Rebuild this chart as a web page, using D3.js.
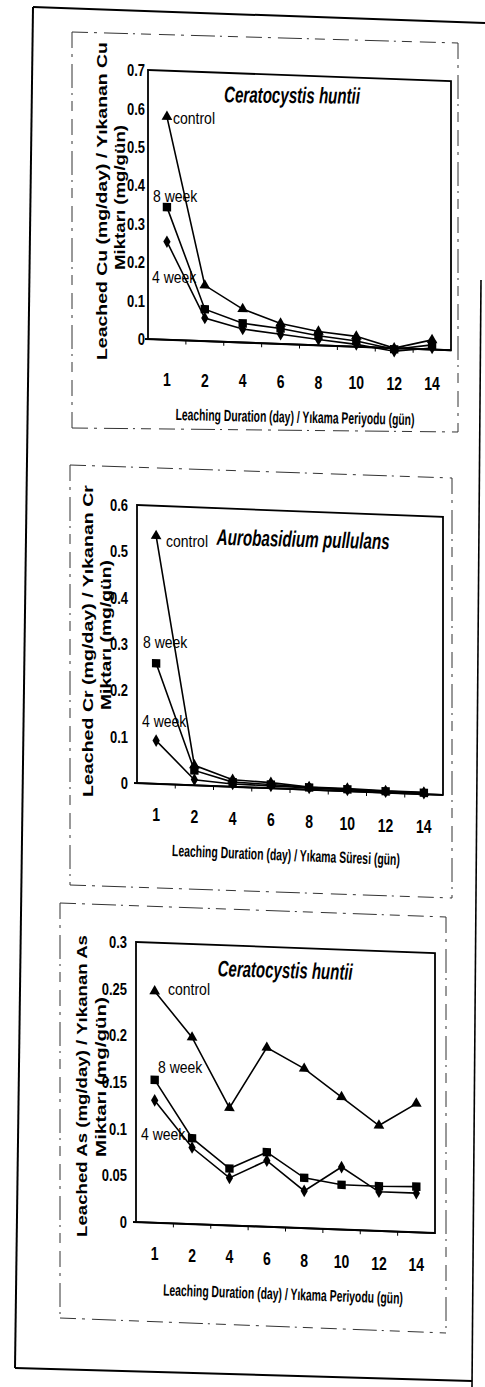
<!DOCTYPE html>
<html><head><meta charset="utf-8">
<script src="https://cdn.jsdelivr.net/npm/d3@7"></script>
<style>html,body{margin:0;padding:0;background:#fff}</style>
</head><body>
<svg id="c" width="485" height="1387"></svg>
<script>
// ---------- DATA ----------
const categories = ["1", "2", "4", "6", "8", "10", "12", "14"];
const seriesNames = ["control", "8 week", "4 week"];

const cuControl = [0.58, 0.145, 0.087, 0.053, 0.036, 0.027, 0.0, 0.025];
const cuWeek8   = [0.345, 0.083, 0.05, 0.04, 0.025, 0.015, -0.003, 0.012];
const cuWeek4   = [0.255, 0.06, 0.035, 0.025, 0.015, 0.006, -0.008, 0.004];
const cuTicks   = [0, 0.1, 0.2, 0.3, 0.4, 0.5, 0.6, 0.7];

const crControl = [0.535, 0.043, 0.015, 0.012, 0.006, 0.006, 0.004, 0.004];
const crWeek8   = [0.26, 0.032, 0.01, 0.008, 0.005, 0.004, 0.003, 0.003];
const crWeek4   = [0.093, 0.012, 0.006, 0.005, 0.004, 0.003, 0.002, 0.002];
const crTicks   = [0, 0.1, 0.2, 0.3, 0.4, 0.5, 0.6];

const asControl = [0.248, 0.2, 0.126, 0.192, 0.171, 0.142, 0.113, 0.138];
const asWeek8   = [0.153, 0.092, 0.061, 0.08, 0.054, 0.048, 0.048, 0.049];
const asWeek4   = [0.131, 0.082, 0.051, 0.071, 0.04, 0.067, 0.042, 0.042];
const asTicks   = [0, 0.05, 0.1, 0.15, 0.2, 0.25, 0.3];

const panelTitles = ["Ceratocystis huntii", "Aurobasidium pullulans", "Ceratocystis huntii"];
const yTitles = ["Leached Cu (mg/day) / Yıkanan Cu", "Leached Cr (mg/day) / Yıkanan Cr", "Leached As (mg/day) / Yıkanan As"];
const yTitle2 = "Miktarı (mg/gün)";
const xTitles = ["Leaching Duration (day) / Yıkama Periyodu (gün)", "Leaching Duration (day) / Yıkama Süresi (gün)", "Leaching Duration (day) / Yıkama Periyodu (gün)"];

// ---------- LAYOUT ----------
const NARROW = "'Liberation Sans Narrow','Arial Narrow',sans-serif";
const WIDE = "'Liberation Sans',Arial,sans-serif";
const layouts = [
  { left: 148, w: 303, y0: 339, yTop: 70, slope: 0.037,
    box: { x0: 72, x1: 458, top0: 32, top1: 43, bot0: 428, bot1: 432 },
    ylabRight: 145, xlabY: 380, xlabSlope: 0.015,
    xt: { cx: 295, cy: 417, len: 239, rot: 1.2 },
    yt1: { x: 107, y: 360, len: 318 }, yt2: { x: 125, y: 270, len: 145 },
    title: { cx: 292, y: 103, len: 136, rot: 0.6 },
    labels: [[173, 124], [153, 202], [152, 283]] },
  { left: 137, w: 306, y0: 783, yTop: 505, slope: 0.039,
    box: { x0: 70, x1: 452, top0: 465, top1: 478, bot0: 885, bot1: 898 },
    ylabRight: 128, xlabY: 815, xlabSlope: 0.045,
    xt: { cx: 286, cy: 855, len: 228, rot: 2.3 },
    yt1: { x: 93, y: 797, len: 312 }, yt2: { x: 111, y: 710, len: 150 },
    title: { cx: 303, y: 547, len: 173, rot: 1.5 },
    labels: [[166, 547], [143, 648], [142, 727]] },
  { left: 136, w: 299, y0: 1222, yTop: 942, slope: 0.037,
    box: { x0: 60, x1: 446, top0: 903, top1: 917, bot0: 1318, bot1: 1333 },
    ylabRight: 127, xlabY: 1254, xlabSlope: 0.042,
    xt: { cx: 283, cy: 1294, len: 240, rot: 2.0 },
    yt1: { x: 87, y: 1237, len: 302 }, yt2: { x: 106, y: 1157, len: 160 },
    title: { cx: 285, y: 978, len: 135, rot: 1.5 },
    labels: [[168, 995], [158, 1073], [141, 1140]] }
];
const panelData = [
  { series: [cuControl, cuWeek8, cuWeek4], ticks: cuTicks },
  { series: [crControl, crWeek8, crWeek4], ticks: crTicks },
  { series: [asControl, asWeek8, asWeek4], ticks: asTicks }
];
const symbols = [d3.symbolTriangle, d3.symbolSquare, d3.symbolDiamond];
const symSizes = [50, 70, 46];

const svg = d3.select("#c");
svg.append("rect").attr("width", 485).attr("height", 1387).attr("fill", "#fff");

function txt(g, s, x, y, o) {
  const t = g.append("text").text(s)
    .attr("transform", `translate(${x},${y}) rotate(${o.rot || 0}) scale(1,${o.sy || 1})`)
    .attr("font-family", o.family || NARROW).attr("font-size", o.size)
    .attr("font-weight", o.weight || "normal").attr("font-style", o.style || "normal")
    .attr("text-anchor", o.anchor || "start").attr("fill", "#000");
  if (o.baseline) t.attr("dominant-baseline", o.baseline);
  if (o.len) t.attr("textLength", o.len).attr("lengthAdjust", "spacingAndGlyphs");
  return t;
}

// outer page frame (scan border)
const frame = svg.append("g").attr("stroke", "#000").attr("fill", "none");
frame.append("line").attr("x1", 33).attr("y1", 7).attr("x2", 485).attr("y2", 23).attr("stroke-width", 2);
frame.append("line").attr("x1", 33).attr("y1", 7).attr("x2", 15).attr("y2", 1368).attr("stroke-width", 2);
frame.append("line").attr("x1", 15).attr("y1", 1368).attr("x2", 472).attr("y2", 1381).attr("stroke-width", 2);
frame.append("line").attr("x1", 481).attr("y1", 280).attr("x2", 472).attr("y2", 1387).attr("stroke-width", 1.6);

function drawPanel(L, D, idx) {
  const g = svg.append("g");
  const b = L.box;
  const dash = g.append("g").attr("stroke", "#333").attr("stroke-width", 1).attr("fill", "none")
    .attr("stroke-dasharray", "16 6 3 7 24 5 2 6 10 8");
  dash.append("line").attr("x1", b.x0).attr("y1", b.top0).attr("x2", b.x1).attr("y2", b.top1);
  dash.append("line").attr("x1", b.x0).attr("y1", b.bot0).attr("x2", b.x1).attr("y2", b.bot1);
  dash.append("line").attr("x1", b.x0).attr("y1", b.top0).attr("x2", b.x0).attr("y2", b.bot0);
  dash.append("line").attr("x1", b.x1).attr("y1", b.top1).attr("x2", b.x1).attr("y2", b.bot1);

  const ymax = D.ticks[D.ticks.length - 1];
  const x = d3.scalePoint().domain(categories).range([0, L.w]).padding(0.5);
  const y = d3.scaleLinear().domain([0, ymax]).range([L.y0, L.yTop]);
  const ang = Math.atan(L.slope) * 180 / Math.PI;

  const p = g.append("g").attr("transform", `translate(${L.left},0) skewY(${ang})`);
  p.append("rect").attr("x", 0).attr("y", y(ymax)).attr("width", L.w).attr("height", y(0) - y(ymax))
    .attr("fill", "none").attr("stroke", "#000").attr("stroke-width", 1.8);
  p.append("line").attr("x1", -3).attr("x2", L.w).attr("y1", y(0)).attr("y2", y(0))
    .attr("stroke", "#000").attr("stroke-width", 2);
  const step = x.step();
  p.selectAll("line.tk").data(categories.slice(1)).join("line").attr("class", "tk")
    .attr("x1", d => x(d) - step / 2).attr("x2", d => x(d) - step / 2)
    .attr("y1", y(0)).attr("y2", y(0) + 4).attr("stroke", "#000").attr("stroke-width", 1);

  const line = d3.line().x((d, i) => x(categories[i])).y(d => y(d));
  D.series.forEach((s, k) => {
    p.append("path").attr("d", line(s)).attr("fill", "none").attr("stroke", "#000").attr("stroke-width", 1.6);
  });
  D.series.forEach((s, k) => {
    p.selectAll(null).data(s).join("path")
      .attr("transform", (d, i) => `translate(${x(categories[i])},${y(d)})`)
      .attr("d", d3.symbol().type(symbols[k]).size(symSizes[k]))
      .attr("fill", "#000");
  });

  D.ticks.forEach(v => {
    txt(g, String(v), L.ylabRight, y(v), { size: 13, sy: 1.3, anchor: "end", baseline: "central", weight: "bold" });
  });
  const x0c = x(categories[0]);
  categories.forEach(c => {
    txt(g, c, L.left + x(c), L.xlabY + L.xlabSlope * (x(c) - x0c), { size: 14, sy: 1.35, anchor: "middle", baseline: "central", weight: "bold" });
  });
  txt(g, xTitles[idx], L.xt.cx, L.xt.cy, { size: 12.5, sy: 1.3, anchor: "middle", baseline: "central", len: L.xt.len, rot: L.xt.rot, weight: "bold" });
  g.append("text").text(yTitles[idx])
    .attr("transform", `translate(${L.yt1.x},${L.yt1.y}) rotate(-90)`)
    .attr("font-family", WIDE).attr("font-weight", "bold").attr("font-size", 15)
    .attr("textLength", L.yt1.len).attr("lengthAdjust", "spacingAndGlyphs");
  g.append("text").text(yTitle2)
    .attr("transform", `translate(${L.yt2.x},${L.yt2.y}) rotate(-90)`)
    .attr("font-family", WIDE).attr("font-weight", "bold").attr("font-size", 15)
    .attr("textLength", L.yt2.len).attr("lengthAdjust", "spacingAndGlyphs");
  txt(g, panelTitles[idx], L.title.cx, L.title.y, { size: 18, sy: 1.25, anchor: "middle", weight: "bold", style: "italic", len: L.title.len, rot: L.title.rot });
  seriesNames.forEach((n, k) => {
    txt(g, n, L.labels[k][0], L.labels[k][1], { size: 14, sy: 1.15 });
  });
}

layouts.forEach((L, i) => drawPanel(L, panelData[i], i));
</script>
</body></html>
